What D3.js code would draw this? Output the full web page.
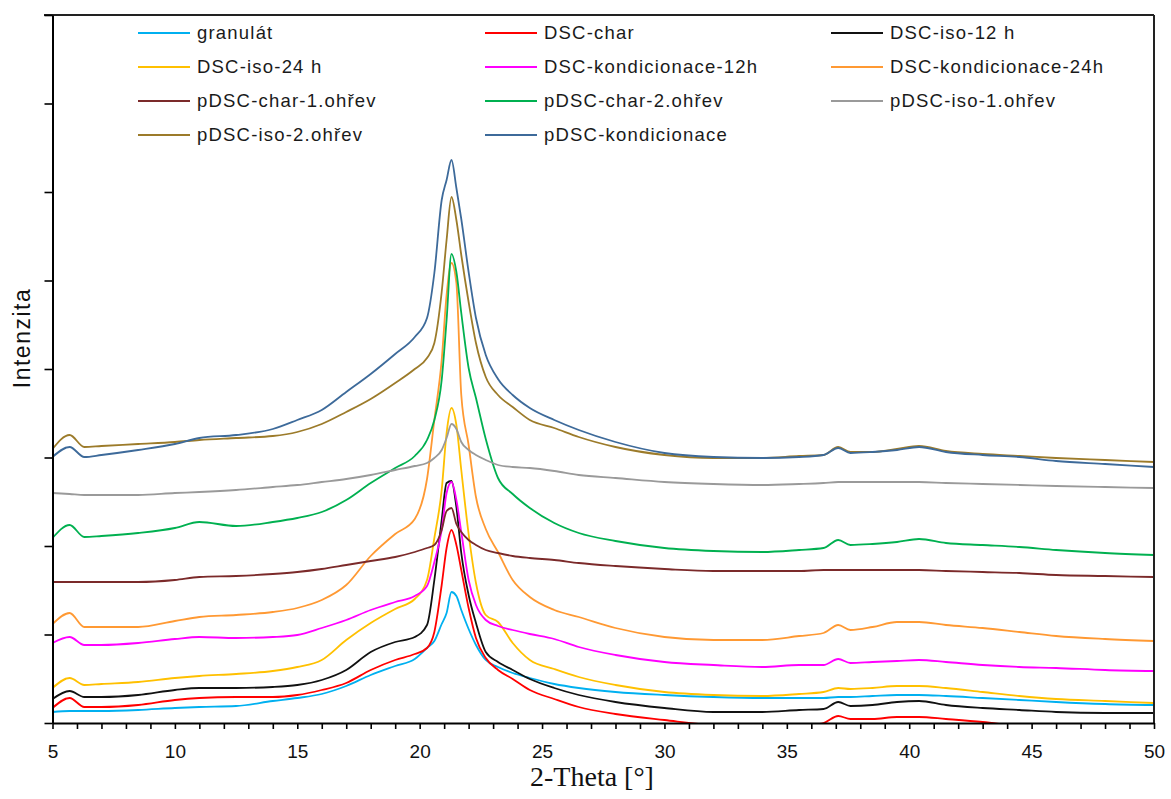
<!DOCTYPE html>
<html>
<head>
<meta charset="utf-8">
<script src="https://cdn.jsdelivr.net/npm/d3@7/dist/d3.min.js"></script>
<style>
  html, body { margin: 0; padding: 0; background: #fff; }
  svg { display: block; }
</style>
</head>
<body>
<svg id="chart" width="1171" height="799"></svg>
<script>
// ---- DATA (2-Theta in degrees, intensity in arbitrary units) ----
const theta = [5,5.7,6.3,7,8.5,10,11,12.5,14,15,16,17,18,19,19.8,20.3,20.6,20.9,21.1,21.3,21.5,21.7,22,22.3,22.7,23.2,23.8,24.5,25.5,26.5,28,30,32,34,35.5,36.5,37.1,37.6,38.5,39.5,40.4,41.5,43,44.5,46,48,50];

const granulat = [11,12,12,12,13, 15,16,17,22,25, 29,37,48,57,64, 75,82,99,110,131, 127,113,94,78,63, 56,50,45,39,35, 31,28,26,25,25, 25,26,26,27,28, 28,27,25,23,21, 19,18];
const dscChar = [15,25,16,16,18, 23,25,26,26,28, 33,40,53,63,69, 75,91,138,175,193, 178,153,115,85,65, 53,44,33,24,16, 9,3,-2,-3,-3, 0,7,4,4,6, 6,4,1,-3,-5, -7,-8];
const dscIso12 = [24,32,26,26,28, 33,35,35,36,38, 43,53,71,81,86, 98,143,203,240,242, 216,170,128,100,71, 61,53,44,35,28, 21,15,11,11,13, 14,21,17,18,21, 22,18,15,13,11, 10,10];
const dscIso24 = [35,45,38,39,41, 45,47,49,52,56, 63,83,100,114,124, 143,185,233,290,315, 298,253,189,140,108, 101,80,63,54,46, 38,31,28,27,29, 31,35,34,35,37, 37,35,31,27,24, 22,20];
const dscKond12 = [80,86,78,78,80, 84,86,85,86,88, 95,103,113,121,127, 137,161,193,230,241, 223,191,143,118,103, 97,93,89,84,76, 68,61,58,56,58, 58,64,60,61,62, 63,61,58,56,55, 53,52];
const dscKond24 = [99,110,96,96,96, 102,106,108,111,115, 123,138,167,189,204, 244,303,363,428,460, 440,328,278,226,194, 171,143,126,113,106, 95,86,83,83,87, 90,98,93,96,101, 101,98,95,91,87, 84,82];
const pChar1 = [141,141,141,141,141, 143,146,147,149,151, 154,158,162,166,171, 175,178,193,212,215, 199,191,183,178,173, 170,167,165,163,160, 157,154,152,152,152, 153,153,153,153,153, 153,152,151,150,148, 147,146];
const pChar2 = [185,198,186,187,190, 195,201,197,201,205, 211,223,240,255,267, 283,303,343,403,469, 451,410,355,325,284, 245,229,215,200,190, 182,175,172,171,173, 175,183,178,179,181, 184,180,178,176,173, 170,168];
const pIso1 = [230,229,228,228,228, 230,231,233,236,238, 241,244,248,253,257, 260,265,273,285,299, 294,281,273,268,263, 258,256,255,252,248, 245,241,239,238,239, 240,241,241,241,241, 241,240,239,238,237, 236,235];
const pIso2 = [274,288,276,277,279, 281,283,285,287,291, 299,311,324,340,354, 365,380,431,483,526, 503,468,421,380,346, 328,316,303,295,286, 276,268,265,265,267, 268,276,271,271,274, 277,272,269,267,265, 263,261];
const pKond = [266,276,266,268,273, 279,285,288,294,303, 313,331,349,369,386, 405,450,523,543,563, 535,504,451,405,368, 344,328,315,303,293, 281,270,266,265,266, 268,275,270,271,273, 276,271,268,266,262, 259,256];

const seriesNames = ["granulát","DSC-char","DSC-iso-12 h","DSC-iso-24 h","DSC-kondicionace-12h","DSC-kondicionace-24h","pDSC-char-1.ohřev","pDSC-char-2.ohřev","pDSC-iso-1.ohřev","pDSC-iso-2.ohřev","pDSC-kondicionace"];
const seriesValues = [granulat, dscChar, dscIso12, dscIso24, dscKond12, dscKond24, pChar1, pChar2, pIso1, pIso2, pKond];
const seriesColors = ["#00B0F0","#FF0000","#111111","#FFC000","#FF00FF","#FF9933","#7B2A2A","#00B050","#9A9A9A","#9C7B2A","#3D6A9A"];

const xTickLabels = [5,10,15,20,25,30,35,40,45,50];
const xMinorTicks = d3.range(5, 51, 1);
const yDomain = [0, 708];
const yTicks = d3.range(0, 709, 88.5);

// ---- LAYOUT ----
const svg = d3.select("#chart");
const plot = { left: 52.5, right: 1154, top: 15, bottom: 723 };
const x = d3.scaleLinear().domain([5, 50]).range([plot.left, plot.right]);
const y = d3.scaleLinear().domain(yDomain).range([plot.bottom, plot.top]);

svg.append("defs").append("clipPath").attr("id", "clip")
  .append("rect").attr("x", plot.left).attr("y", plot.top)
  .attr("width", plot.right - plot.left).attr("height", plot.bottom - plot.top);

// lines
const line = d3.line().x((d, i) => x(theta[i])).y(d => y(d)).curve(d3.curveMonotoneX);
const g = svg.append("g").attr("clip-path", "url(#clip)");
seriesValues.forEach((vals, k) => {
  g.append("path").datum(vals)
    .attr("d", line)
    .attr("fill", "none")
    .attr("stroke", seriesColors[k])
    .attr("stroke-width", 1.8)
    .attr("stroke-linejoin", "round");
});

// frame (top & right)
svg.append("line").attr("x1", 44).attr("x2", plot.right).attr("y1", plot.top).attr("y2", plot.top)
  .attr("stroke", "#222").attr("stroke-width", 2);
svg.append("line").attr("x1", plot.right).attr("x2", plot.right).attr("y1", plot.top).attr("y2", plot.bottom)
  .attr("stroke", "#222").attr("stroke-width", 2);

// x axis
const xAxis = d3.axisBottom(x).tickValues(xMinorTicks).tickSize(6).tickSizeOuter(0)
  .tickFormat(d => xTickLabels.includes(d) ? d : "");
const xg = svg.append("g").attr("transform", `translate(0,${plot.bottom})`).call(xAxis);
xg.select(".domain").attr("stroke", "#000").attr("stroke-width", 2);
xg.selectAll(".tick line").attr("stroke", "#000").attr("stroke-width", 1.6);
xg.selectAll(".tick text").attr("font-family", "'Liberation Sans', Arial, sans-serif")
  .attr("font-size", 19).attr("fill", "#111").attr("dy", "0.71em").attr("y", 22);

// y axis
const yAxis = d3.axisLeft(y).tickValues(yTicks).tickSize(8).tickSizeOuter(0).tickFormat("");
const yg = svg.append("g").attr("transform", `translate(${plot.left},0)`).call(yAxis);
yg.select(".domain").attr("stroke", "#000").attr("stroke-width", 2);
yg.selectAll(".tick line").attr("stroke", "#000").attr("stroke-width", 1.6);

// axis titles
svg.append("text").attr("x", 592).attr("y", 786).attr("text-anchor", "middle")
  .attr("font-family", "'Liberation Serif', 'Times New Roman', serif").attr("font-size", 28)
  .attr("fill", "#111").text("2-Theta [°]");
svg.append("text").attr("transform", "translate(30,338) rotate(-90)").attr("text-anchor", "middle")
  .attr("font-family", "'Liberation Sans', Arial, sans-serif").attr("font-size", 23)
  .attr("letter-spacing", 1.5).attr("fill", "#111").text("Intenzita");

// legend
const legCols = [138, 485, 831];
const legRow0 = 33, legRowStep = 34;
const leg = svg.append("g");
seriesNames.forEach((name, i) => {
  const cx = legCols[i % 3];
  const cy = legRow0 + Math.floor(i / 3) * legRowStep;
  leg.append("line").attr("x1", cx).attr("x2", cx + 52).attr("y1", cy).attr("y2", cy)
    .attr("stroke", seriesColors[i]).attr("stroke-width", 2);
  leg.append("text").attr("x", cx + 59).attr("y", cy).attr("dy", "0.35em")
    .attr("font-family", "'Liberation Sans', Arial, sans-serif").attr("font-size", 18.5)
    .attr("letter-spacing", 1.2).attr("fill", "#1a1a1a").text(name);
});
</script>
</body>
</html>
